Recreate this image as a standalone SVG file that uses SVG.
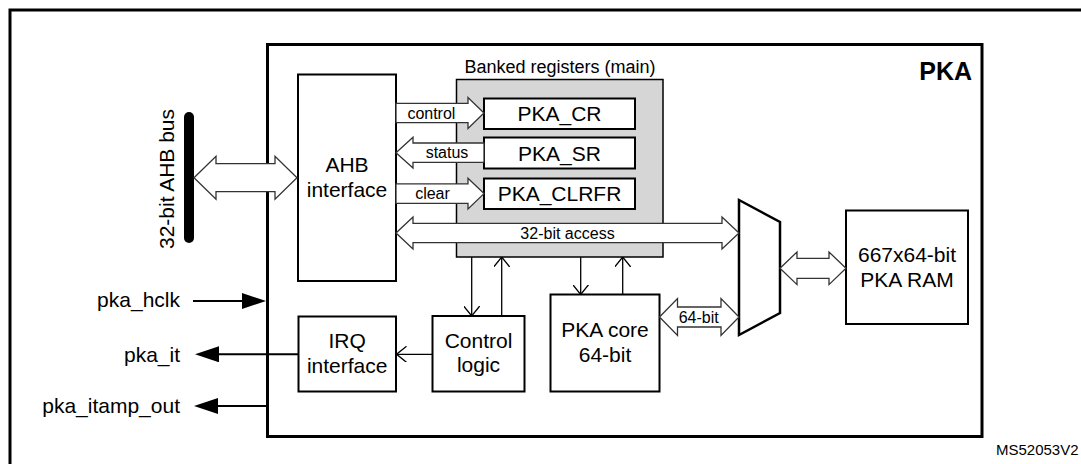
<svg xmlns="http://www.w3.org/2000/svg" width="1081" height="464" viewBox="0 0 1081 464">
<style>
text{font-family:"Liberation Sans",Arial,sans-serif;fill:#000}
.lbl{font-size:21px;text-anchor:middle}
.sig{font-size:21px;text-anchor:end}
.sm{font-size:16px;text-anchor:middle}
.box{fill:#fff;stroke:#000;stroke-width:2}
.blk{fill:#fff;stroke:#333;stroke-width:1.3;stroke-linejoin:miter}
.thin{fill:none;stroke:#000;stroke-width:1.3}
.sigl{fill:none;stroke:#000;stroke-width:2}
</style>
<defs>
<marker id="vhead" viewBox="0 0 10 16" refX="10" refY="8" markerWidth="10" markerHeight="16" markerUnits="userSpaceOnUse" orient="auto">
<path d="M0,0 L10,8 L0,16" fill="none" stroke="#000" stroke-width="1.3"/>
</marker>
<marker id="fhead" viewBox="0 0 24 16" refX="0" refY="8" markerWidth="24" markerHeight="16" markerUnits="userSpaceOnUse" orient="auto">
<path d="M0,0 L24,8 L0,16 Z" fill="#000"/>
</marker>
</defs>
<rect width="1081" height="464" fill="#fff"/>
<path d="M10,480 V10 H1095" fill="none" stroke="#000" stroke-width="3"/>
<g id="pka">
<rect x="267.5" y="44.5" width="714.5" height="392" fill="#fff" stroke="#000" stroke-width="3"/>
<text x="972" y="80" style="font-size:25px;font-weight:bold;text-anchor:end">PKA</text>
</g>
<g id="ahb-bus">
<line x1="189" y1="117" x2="189" y2="238" stroke="#000" stroke-width="10" stroke-linecap="round"/>
<text class="lbl" transform="translate(174,179) rotate(-90)">32-bit AHB bus</text>
</g>
<g id="ahb-interface">
<rect class="box" x="298" y="74.5" width="98" height="206.5"/>
<text class="lbl" x="347" y="172">AHB</text>
<text class="lbl" x="347" y="197">interface</text>
</g>
<g id="banked-registers">
<rect x="456.5" y="79.5" width="206.5" height="177.5" fill="#d6d6d6" stroke="#000" stroke-width="1.5"/>
<text x="560" y="73" style="font-size:18px;text-anchor:middle">Banked registers (main)</text>
</g>
<g id="pka-cr">
<rect class="box" x="484" y="98.5" width="151" height="30.5"/>
<text class="lbl" x="559.5" y="121">PKA_CR</text>
</g>
<g id="pka-sr">
<rect class="box" x="484" y="137.5" width="151" height="31"/>
<text class="lbl" x="559.5" y="160.5">PKA_SR</text>
</g>
<g id="pka-clrfr">
<rect class="box" x="484" y="178.5" width="151" height="30.5"/>
<text class="lbl" x="559.5" y="201.2">PKA_CLRFR</text>
</g>
<g id="irq-interface">
<rect class="box" x="298.5" y="316.5" width="97.5" height="75"/>
<text class="lbl" x="347.2" y="348.3">IRQ</text>
<text class="lbl" x="347.2" y="372.7">interface</text>
</g>
<g id="control-logic">
<rect class="box" x="432.5" y="316" width="92" height="75.5"/>
<text class="lbl" x="478.5" y="347.7">Control</text>
<text class="lbl" x="478.5" y="371.7">logic</text>
</g>
<g id="pka-core">
<rect class="box" x="550.5" y="294.5" width="109" height="97"/>
<text class="lbl" x="605" y="336.7">PKA core</text>
<text class="lbl" x="605" y="361.7">64-bit</text>
</g>
<g id="mux">
<polygon points="739,200 780,222 780,313 739,335" fill="#fff" stroke="#000" stroke-width="2.5"/>
</g>
<g id="pka-ram">
<rect class="box" x="846" y="210.5" width="122" height="113.5"/>
<text class="lbl" x="907" y="261.7">667x64-bit</text>
<text class="lbl" x="907" y="286.7">PKA RAM</text>
</g>
<g id="connectors">
<path class="blk" d="M194,177.7 L216,156.2 L216,163.7 L275,163.7 L275,156.2 L297,177.7 L275,199.2 L275,191.7 L216,191.7 L216,199.2 Z"/>
<path class="blk" d="M396,103.3 L468,103.3 L468,97.6 L484,113 L468,128.4 L468,122.7 L396,122.7 Z"/>
<text class="sm" x="431.4" y="118.5">control</text>
<path class="blk" d="M484,143 L413,143 L413,137.3 L396,152.7 L413,168.1 L413,162.4 L484,162.4 Z"/>
<text class="sm" x="447" y="158.3">status</text>
<path class="blk" d="M396,183.9 L468,183.9 L468,178.2 L484,193.6 L468,209 L468,203.3 L396,203.3 Z"/>
<text class="sm" x="432.5" y="199">clear</text>
<path class="blk" d="M396,233 L413,217 L413,223.3 L722,223.3 L722,217 L739,233 L722,249 L722,242.7 L413,242.7 L413,249 Z"/>
<text class="sm" x="567.5" y="238.5">32-bit access</text>
<path class="blk" d="M659.5,317 L677.5,298.5 L677.5,307 L721,307 L721,298.5 L739,317 L721,335.5 L721,327 L677.5,327 L677.5,335.5 Z"/>
<text class="sm" x="698.7" y="322.5">64-bit</text>
<path class="blk" d="M780,268.3 L797,252 L797,258.3 L829,258.3 L829,252 L846,268.3 L829,284.6 L829,278.3 L797,278.3 L797,284.6 Z"/>
<line class="thin" x1="432.5" y1="354.3" x2="396.5" y2="354.3" marker-end="url(#vhead)"/>
<line class="thin" x1="471.7" y1="257" x2="471.7" y2="316" marker-end="url(#vhead)"/>
<line class="thin" x1="501.7" y1="316" x2="501.7" y2="257" marker-end="url(#vhead)"/>
<line class="thin" x1="580.7" y1="257" x2="580.7" y2="294.5" marker-end="url(#vhead)"/>
<line class="thin" x1="622.7" y1="294.5" x2="622.7" y2="257" marker-end="url(#vhead)"/>
<line class="sigl" x1="193" y1="301" x2="242" y2="301" marker-end="url(#fhead)"/>
<line class="sigl" x1="298.5" y1="354.3" x2="219" y2="354.3" marker-end="url(#fhead)"/>
<line class="sigl" x1="267" y1="406" x2="218" y2="406" marker-end="url(#fhead)"/>
</g>
<g id="signal-labels">
<text class="sig" x="180" y="307">pka_hclk</text>
<text class="sig" x="180" y="361.5">pka_it</text>
<text class="sig" x="180" y="413">pka_itamp_out</text>
<text x="996" y="455" style="font-size:15px">MS52053V2</text>
</g>
</svg>
